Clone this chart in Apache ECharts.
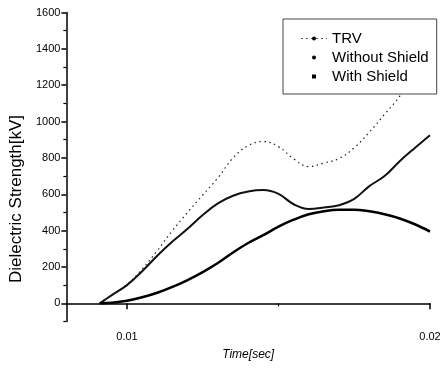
<!DOCTYPE html>
<html>
<head>
<meta charset="UTF-8">
<title>Dielectric Strength</title>
<style>
  html, body { margin: 0; padding: 0; background: #fff; }
  #box { width: 444px; height: 375px; }
</style>
</head>
<body>
<div id="box"></div>
<script src="https://cdn.jsdelivr.net/npm/echarts@6/dist/echarts.min.js"></script>
<script>
// time axis (sec), shared by all three curves
const time = [0.0091, 0.0095, 0.0100, 0.0105, 0.0110, 0.0115, 0.0120, 0.0125, 0.0130, 0.0135,
  0.0140, 0.0145, 0.0150, 0.0155, 0.0160, 0.0165, 0.0170, 0.0175, 0.0180, 0.0185,
  0.0190, 0.0195, 0.0200];

// kV
const trv = [0, 3, 14, 33, 58, 90, 128, 172, 222, 280,
  332, 375, 422, 460, 490, 507, 515, 515, 506, 490,
  467, 435, 395];
const withoutShield = [0, 45, 100, 176, 262, 340, 410, 486, 550, 592,
  615, 623, 602, 545, 519, 527, 540, 575, 645, 700,
  782, 855, 925];
const withShield = [0, 45, 103, 188, 290, 400, 500, 596, 690, 800,
  868, 890, 862, 795, 752, 772, 797, 856, 942, 1040,
  1140, 1290, 1440];

const xLabels = [0.01, 0.02];
const xMinor = [0.015];
const yLabels = [0, 200, 400, 600, 800, 1000, 1200, 1400, 1600];
const yMinor = [-100, 100, 300, 500, 700, 900, 1100, 1300, 1500];

const font = "'Liberation Sans', Arial, sans-serif";

function pairs(ys) {
  return time.map(function (t, i) { return [t, ys[i]]; });
}

const chart = echarts.init(document.getElementById('box'));

chart.setOption({
  animation: false,
  backgroundColor: '#fff',
  grid: { left: 64, right: 14, top: 12.5, bottom: 53.5 },
  legend: {
    orient: 'vertical',
    left: 283,
    top: 19,
    padding: [12, 8, 10, 17],
    itemWidth: 26,
    itemHeight: 5,
    itemGap: 4,
    backgroundColor: '#fff',
    borderColor: '#444',
    borderWidth: 1,
    borderRadius: 0,
    textStyle: { fontFamily: font, fontSize: 15, color: '#000', lineHeight: 14 },
    data: [
      { name: 'TRV', lineStyle: { type: [2, 3], width: 1, color: '#555', opacity: 1 } },
      { name: 'Without Shield', lineStyle: { opacity: 0 } },
      { name: 'With Shield', lineStyle: { opacity: 0 } }
    ]
  },
  xAxis: [{
    type: 'value',
    min: 0.008,
    max: 0.02,
    name: 'Time[sec]',
    nameLocation: 'middle',
    nameGap: 27,
    nameTextStyle: { fontFamily: font, fontSize: 12, fontStyle: 'italic', color: '#000' },
    axisLine: { lineStyle: { color: '#000', width: 1.5 } },
    axisTick: { customValues: xLabels, length: 6, lineStyle: { color: '#000', width: 1.5 } },
    axisLabel: {
      customValues: xLabels, margin: 10, fontFamily: font, fontSize: 11, color: '#000',
      formatter: function (v) { return String(v); }
    },
    splitLine: { show: false }
  }, {
    type: 'value',
    position: 'bottom',
    min: 0.008,
    max: 0.02,
    axisLine: { show: false },
    axisTick: { customValues: xMinor, length: 3, lineStyle: { color: '#000', width: 1.2 } },
    axisLabel: { show: false },
    splitLine: { show: false }
  }],
  yAxis: [{
    type: 'value',
    min: -100,
    max: 1600,
    name: 'Dielectric Strength[kV]',
    nameLocation: 'middle',
    nameRotate: 90,
    nameGap: 37,
    nameTextStyle: { fontFamily: font, fontSize: 17, color: '#000', padding: [0, 64, 0, 0] },
    axisLine: { lineStyle: { color: '#000', width: 1.5 } },
    axisTick: { customValues: yLabels, length: 5, lineStyle: { color: '#000', width: 1.5 } },
    axisLabel: {
      customValues: yLabels, margin: 6, fontFamily: font, fontSize: 11, color: '#000',
      formatter: function (v) { return String(v); }
    },
    splitLine: { show: false }
  }, {
    type: 'value',
    position: 'left',
    min: -100,
    max: 1600,
    axisLine: { show: false },
    axisTick: { customValues: yMinor, length: 3, lineStyle: { color: '#000', width: 1.2 } },
    axisLabel: { show: false },
    splitLine: { show: false }
  }],
  series: [{
    name: 'With Shield',
    type: 'line',
    data: pairs(withShield),
    smooth: 0.4,
    symbol: 'rect',
    showSymbol: false,
    color: '#000',
    lineStyle: { color: '#222', width: 1.2, type: [1.5, 3.5] }
  }, {
    name: 'Without Shield',
    type: 'line',
    data: pairs(withoutShield),
    smooth: 0.4,
    symbol: 'circle',
    showSymbol: false,
    color: '#000',
    lineStyle: { color: '#111', width: 2 }
  }, {
    name: 'TRV',
    type: 'line',
    data: pairs(trv),
    smooth: 0.4,
    symbol: 'circle',
    showSymbol: false,
    color: '#000',
    lineStyle: { color: '#000', width: 2.5 }
  }]
});
</script>
</body>
</html>
